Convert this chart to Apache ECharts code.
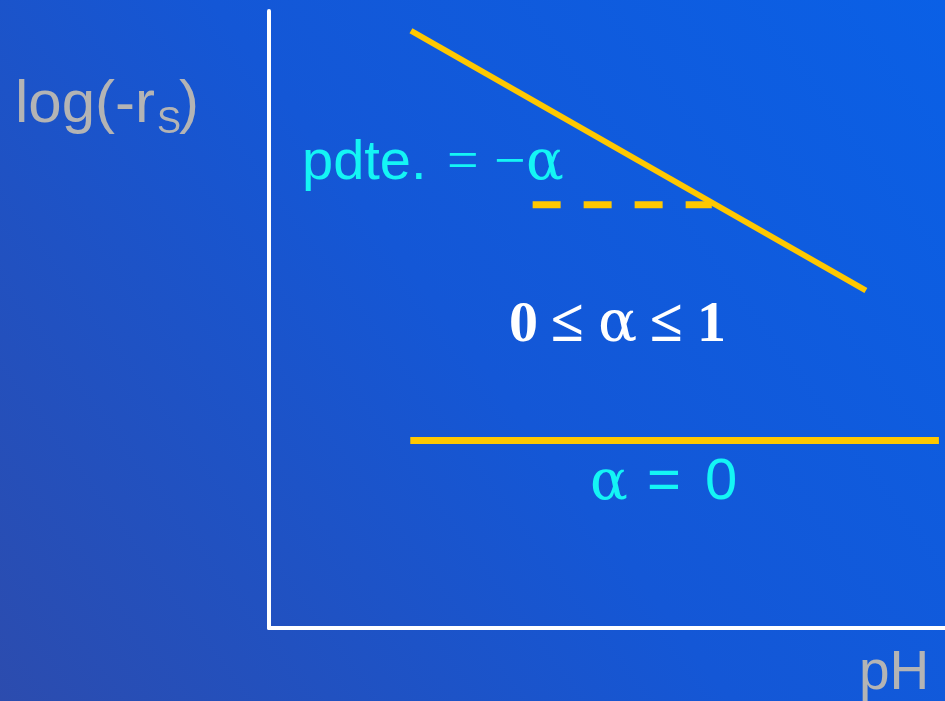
<!DOCTYPE html>
<html>
<head>
<meta charset="utf-8">
<title>log(-rS) vs pH</title>
<script src="https://cdn.jsdelivr.net/npm/echarts@6/dist/echarts.min.js"></script>
<style>
  html, body { margin: 0; padding: 0; }
  #chart { width: 945px; height: 701px; }
</style>
</head>
<body>
<div id="chart"></div>
<script>
// axes run 0..100 in both directions (no ticks shown)
const slopeX = [21.0, 88.3];
const slopeY = [96.8, 54.7];
const dashX = [39.0, 65.5];
const dashY = [68.6, 68.6];
const flatX = [20.9, 99.1];
const flatY = [30.4, 30.4];

const yTitle = ['log(-r', 'S', ')'];
const xTitle = 'pH';
const slopeText = ['pdte.', '=', '−', 'α'];
const rangeText = ['0', '≤', 'α', '≤', '1'];
const zeroText = ['α', '=', '0'];

const yellow = '#ffc800';
const cyan = '#14f5f5';
const grey = '#b4b4b4';
const sans = 'Liberation Sans';
const serif = 'Liberation Serif';
const greek = 'DejaVu Serif';

function pairs(xs, ys) {
  return xs.map((x, i) => [x, ys[i]]);
}

// x = left edge, base = baseline of the text
function label(x, base, text, size, family, fill, weight) {
  return {
    type: 'text',
    x: x,
    y: base - Math.round(size * 0.83),
    silent: true,
    style: {
      text: text,
      font: (weight || 'normal') + ' ' + size + 'px "' + family + '"',
      fill: fill
    }
  };
}

const chart = echarts.init(document.getElementById('chart'));

chart.setOption({
  animation: false,
  backgroundColor: {
    type: 'linear',
    x: 1, y: 0, x2: 0, y2: 1,
    colorStops: [
      { offset: 0, color: '#0a60e6' },
      { offset: 0.5, color: '#1457d6' },
      { offset: 1, color: '#2c4cae' }
    ]
  },
  grid: { left: 269, right: 0, top: 11, bottom: 73 },
  xAxis: {
    type: 'value',
    min: 0,
    max: 100,
    axisLine: { show: true, lineStyle: { color: '#ffffff', width: 4 } },
    axisTick: { show: false },
    axisLabel: { show: false },
    splitLine: { show: false }
  },
  yAxis: {
    type: 'value',
    min: 0,
    max: 100,
    axisLine: { show: true, lineStyle: { color: '#ffffff', width: 4 } },
    axisTick: { show: false },
    axisLabel: { show: false },
    splitLine: { show: false }
  },
  series: [
    {
      type: 'line',
      data: pairs(slopeX, slopeY),
      symbol: 'none',
      lineStyle: { color: yellow, width: 6 }
    },
    {
      type: 'line',
      data: pairs(dashX, dashY),
      symbol: 'none',
      lineStyle: { color: yellow, width: 7, type: [28, 23], cap: 'butt' }
    },
    {
      type: 'line',
      data: pairs(flatX, flatY),
      symbol: 'none',
      lineStyle: { color: yellow, width: 7 }
    }
  ],
  graphic: [
    label(15, 125, yTitle[0], 60, sans, grey),
    label(157, 135, yTitle[1], 36, sans, grey),
    label(179, 125, yTitle[2], 60, sans, grey),

    label(302, 182, slopeText[0], 56, sans, cyan),
    label(447, 182, slopeText[1], 56, serif, cyan),
    label(494, 182, slopeText[2], 56, serif, cyan),
    label(526, 182, slopeText[3], 56, greek, cyan),

    label(509, 345, rangeText[0], 58, serif, '#ffffff', 'bold'),
    label(551, 345, rangeText[1], 60, serif, '#ffffff', 'bold'),
    label(598, 345, rangeText[2], 58, greek, '#ffffff'),
    label(650, 345, rangeText[3], 60, serif, '#ffffff', 'bold'),
    label(697, 345, rangeText[4], 58, serif, '#ffffff', 'bold'),

    label(590, 502, zeroText[0], 56, greek, cyan),
    label(647, 502, zeroText[1], 58, sans, cyan),
    label(705, 502, zeroText[2], 58, sans, cyan),

    label(859, 692, xTitle, 55, sans, grey)
  ]
});
</script>
</body>
</html>
